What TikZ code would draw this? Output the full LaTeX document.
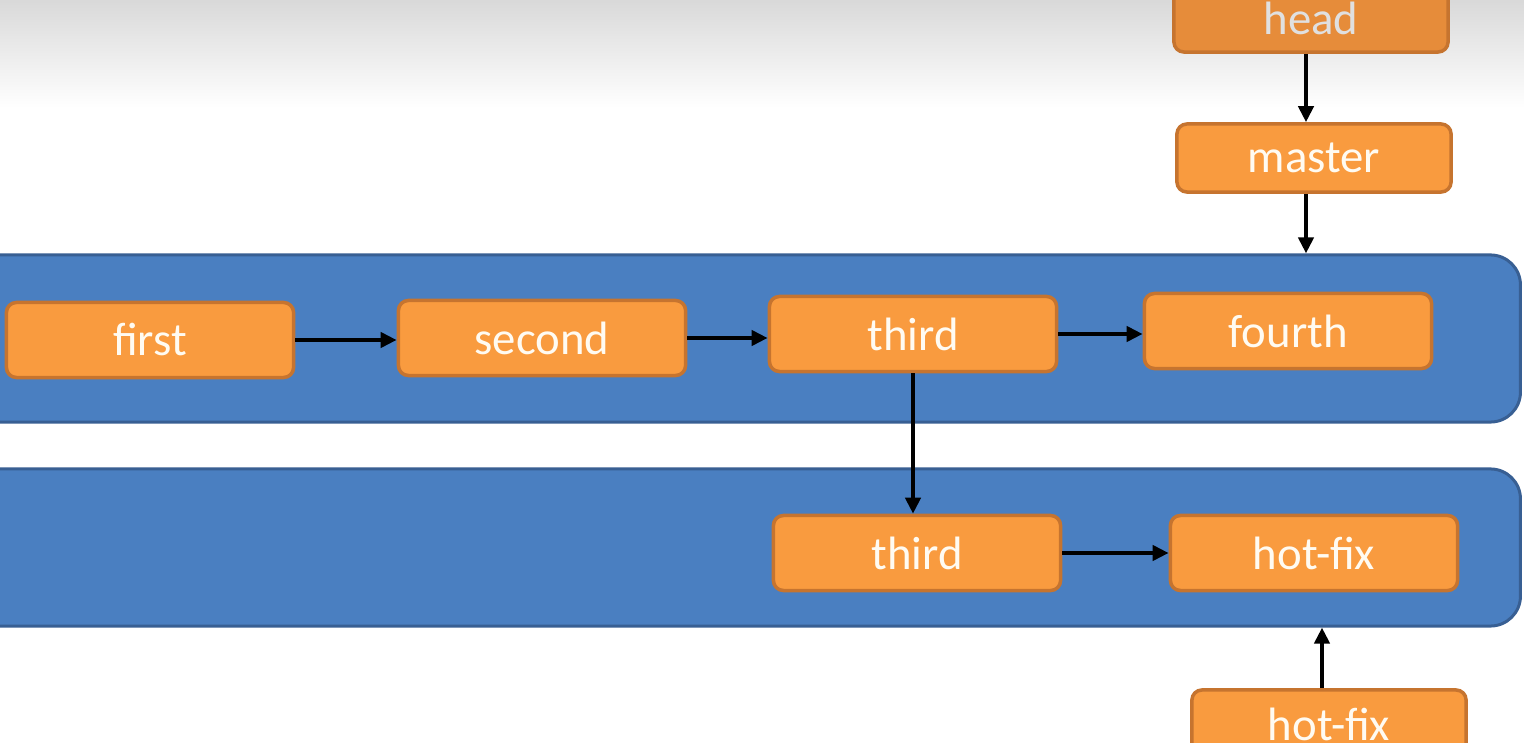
\documentclass[tikz,border=0pt]{standalone}
\usepackage{fontspec}
\setmainfont{Carlito}
\usepackage{xcolor}
\usepackage{tikz}
\usetikzlibrary{arrows.meta, positioning}

\definecolor{commitfill}{HTML}{F99B3F}
\definecolor{commitdraw}{HTML}{C6742F}
\definecolor{headfill}{HTML}{E68C3A}
\definecolor{branchfill}{HTML}{4A7FC1}
\definecolor{branchdraw}{HTML}{385F93}
\definecolor{committext}{HTML}{FFFBF2}

\begin{document}
\begin{tikzpicture}[
  x=0.01cm, y=-0.01cm,
  band/.style     = {draw=branchdraw, fill=branchfill, line width=0.03cm,
                     rounded corners=0.3cm, minimum width=15.6cm, inner sep=0pt},
  commit/.style   = {draw=commitdraw, fill=commitfill, line width=0.035cm,
                     rounded corners=0.1cm, minimum width=2.87cm,
                     minimum height=0.75cm, inner sep=0pt, text=committext,
                     font=\fontsize{13.3}{16}\selectfont},
  pointer/.style  = {commit, minimum width=2.74cm, minimum height=0.68cm},
  link/.style     = {-{Triangle[length=0.16cm, width=0.15cm]},
                     line width=0.045cm, black},
]
\clip (0,0) rectangle (1524,743);
\useasboundingbox (0,0) rectangle (1524,743);

%% ── backdrop ────────────────────────────────────────────────────────────────
\fill[white] (0,0) rectangle (1524,743);
\shade[top color=black!15, bottom color=white] (0,0) rectangle (1524,108);

%% ── branch bands ────────────────────────────────────────────────────────────
\node[band, minimum height=1.67cm] (mainband) at (740,338.5) {};
\node[band, minimum height=1.57cm] (fixband)  at (740,547.5) {};

%% ── pointers ────────────────────────────────────────────────────────────────
\node[pointer, fill=headfill, text=white!88!black] (head) at (1311,18) {head};
\node[pointer] (master) at (1314,158) {master};
\node[pointer] (hotfixptr) at (1329,724) {hot-fix};

%% ── commits on main line ────────────────────────────────────────────────────
\node[commit] (first)  at (150,340) {first};
\node[commit] (second) at (542,338) {second};
\node[commit] (third)  at (913,334) {third};
\node[commit] (fourth) at (1288,331) {fourth};

%% ── commits on fix line ─────────────────────────────────────────────────────
\node[commit] (thirdfix) at (917,553) {third};
\node[commit] (hotfix)   at (1314,553) {hot-fix};

%% ── links ───────────────────────────────────────────────────────────────────
\draw[link] (first.east)  -- (first.east -| second.west);
\draw[link] (second.east) -- (second.east -| third.west);
\draw[link] (third.east)  -- (third.east -| fourth.west);
\draw[link] (third.south) -- (third.south |- thirdfix.north);
\draw[link] (thirdfix.east) -- (thirdfix.east -| hotfix.west);

\draw[link] ([xshift=-0.05cm]head.south) -- ([xshift=-0.05cm]head.south |- master.north);
\draw[link] ([xshift=-0.08cm]master.south) -- ([xshift=-0.08cm]master.south |- mainband.north);
\draw[link] ([xshift=-0.07cm]hotfixptr.north) -- ([xshift=-0.07cm]hotfixptr.north |- fixband.south);

\end{tikzpicture}
\end{document}
